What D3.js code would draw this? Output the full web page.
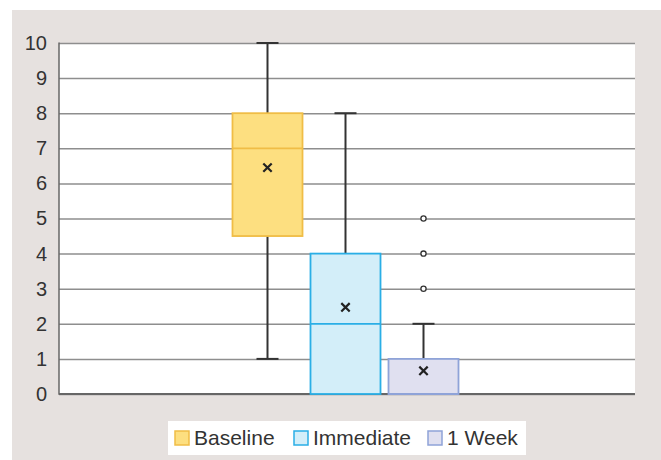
<!DOCTYPE html>
<html><head><meta charset="utf-8">
<script src="https://cdn.jsdelivr.net/npm/d3@7"></script>
<style>html,body{margin:0;padding:0;background:#fff;}svg{display:block;}</style>
</head><body>
<svg id="chart" width="661" height="460"></svg>
<script>
const series = ["Baseline", "Immediate", "1 Week"];
const mins = [1, 0, 0];
const q1s = [4.5, 0, 0];
const medians = [7, 2, 0];
const q3s = [8, 4, 1];
const maxs = [10, 8, 2];
const means = [6.45, 2.47, 0.66];
const outliers = [[], [], [3, 4, 5]];
const yTicks = [0, 1, 2, 3, 4, 5, 6, 7, 8, 9, 10];
const fills = ["#fddf80", "#d3eef9", "#e0e0f0"];
const strokes = ["#f0bd46", "#2aaee6", "#8fa3d8"];

const svg = d3.select("#chart");
svg.append("rect").attr("x", 12).attr("y", 10).attr("width", 649).attr("height", 450).attr("fill", "#e6e1df");

const L = 59, R = 635, T = 43, B = 394;
svg.append("rect").attr("x", L).attr("y", T).attr("width", R - L).attr("height", B - T).attr("fill", "#fff");

const y = d3.scaleLinear().domain([0, 10]).range([B, T]);
const cx = (L + R) / 2 - 1.5;
const x = d3.scaleBand().domain(series).range([cx - 117, cx + 117]).paddingInner(0.1026).paddingOuter(0.0513);

// grid
const yAxis = d3.axisLeft(y).tickValues(yTicks).tickSize(-(R - L)).tickPadding(12).tickFormat(d3.format("d"));
const gy = svg.append("g").attr("transform", `translate(${L},0)`).call(yAxis);
gy.select(".domain").remove();
gy.selectAll(".tick line").attr("stroke", "#8e8e8e").attr("stroke-width", 1.5);
gy.selectAll(".tick text").attr("fill", "#333").attr("font-family", "Liberation Sans, Arial, sans-serif").attr("font-size", 20);
svg.append("line").attr("x1", L).attr("x2", L).attr("y1", T - 0.5).attr("y2", B + 0.8).attr("stroke", "#666").attr("stroke-width", 1.5);
svg.append("line").attr("x1", L).attr("x2", R).attr("y1", B).attr("y2", B).attr("stroke", "#666").attr("stroke-width", 1.8);

series.forEach((s, i) => {
  const x0 = x(s), w = x.bandwidth(), xc = x0 + w / 2;
  const g = svg.append("g");
  const cap = 22;
  // upper whisker
  if (maxs[i] > q3s[i]) {
    g.append("line").attr("x1", xc).attr("x2", xc).attr("y1", y(q3s[i])).attr("y2", y(maxs[i])).attr("stroke", "#333").attr("stroke-width", 2);
    g.append("line").attr("x1", xc - cap / 2).attr("x2", xc + cap / 2).attr("y1", y(maxs[i])).attr("y2", y(maxs[i])).attr("stroke", "#333").attr("stroke-width", 2);
  }
  if (mins[i] < q1s[i]) {
    g.append("line").attr("x1", xc).attr("x2", xc).attr("y1", y(q1s[i])).attr("y2", y(mins[i])).attr("stroke", "#333").attr("stroke-width", 2);
    g.append("line").attr("x1", xc - cap / 2).attr("x2", xc + cap / 2).attr("y1", y(mins[i])).attr("y2", y(mins[i])).attr("stroke", "#333").attr("stroke-width", 2);
  }
  g.append("rect").attr("x", x0).attr("y", y(q3s[i])).attr("width", w).attr("height", y(q1s[i]) - y(q3s[i]))
    .attr("fill", fills[i]).attr("stroke", strokes[i]).attr("stroke-width", 1.8);
  g.append("line").attr("x1", x0).attr("x2", x0 + w).attr("y1", y(medians[i])).attr("y2", y(medians[i])).attr("stroke", strokes[i]).attr("stroke-width", 1.8);
  const my = y(means[i]), m = 4.2;
  g.append("path").attr("d", `M${xc - m},${my - m}L${xc + m},${my + m}M${xc - m},${my + m}L${xc + m},${my - m}`)
    .attr("stroke", "#222").attr("stroke-width", 2.2);
  outliers[i].forEach(v => {
    g.append("circle").attr("cx", xc).attr("cy", y(v)).attr("r", 2.6).attr("fill", "#fff").attr("stroke", "#333").attr("stroke-width", 1.3);
  });
});

// legend
const lg = svg.append("g");
lg.append("rect").attr("x", 168).attr("y", 421).attr("width", 358).attr("height", 34).attr("fill", "#fff");
const lx = [175, 294, 428];
series.forEach((s, i) => {
  lg.append("rect").attr("x", lx[i]).attr("y", 431).attr("width", 14).attr("height", 14)
    .attr("fill", fills[i]).attr("stroke", strokes[i]).attr("stroke-width", 1.5);
  lg.append("text").attr("x", lx[i] + 19).attr("y", 445).text(s)
    .attr("font-family", "Liberation Sans, Arial, sans-serif").attr("font-size", 21).attr("fill", "#333");
});
</script>
</body></html>
